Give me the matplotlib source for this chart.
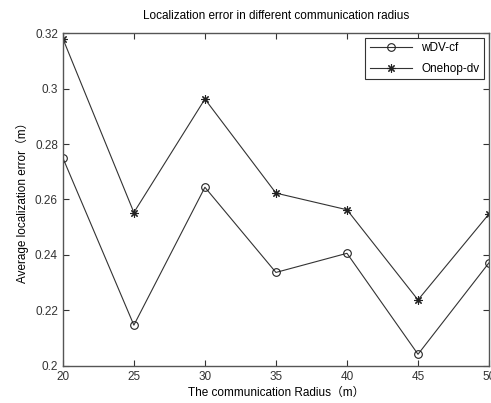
import matplotlib
matplotlib.use('Agg')
import matplotlib.pyplot as plt

plt.rcParams['font.family'] = ['Liberation Sans', 'Noto Sans CJK SC']

radius = [20, 25, 30, 35, 40, 45, 50]
wdv_cf = [0.275, 0.2147, 0.2644, 0.2337, 0.2406, 0.2042, 0.2372]
onehop_dv = [0.318, 0.2553, 0.2962, 0.2623, 0.2563, 0.2238, 0.2548]

fig = plt.figure(figsize=(4.91, 4.03), dpi=100)
ax = fig.add_axes([0.128, 0.092, 0.868, 0.826])

ax.plot(radius, wdv_cf, color='#333333', lw=0.8, marker='o', ms=5.5,
        mfc='none', mec='#222222', mew=0.8, label='wDV-cf')
ax.plot(radius, onehop_dv, color='#333333', lw=0.8, marker=(8, 2, 0), ms=6,
        mfc='#222222', mec='#222222', mew=0.8, label='Onehop-dv')

ax.set_xlim(20, 50)
ax.set_ylim(0.2, 0.32)
ax.set_xticks(radius)
ax.set_yticks([0.2, 0.22, 0.24, 0.26, 0.28, 0.3, 0.32])
ax.set_yticklabels(['0.2', '0.22', '0.24', '0.26', '0.28', '0.3', '0.32'])
ax.tick_params(direction='in', length=4, width=0.8, labelsize=8.5,
               top=True, right=True, colors='#333333')
for s in ax.spines.values():
    s.set_color('#555555')
    s.set_linewidth(1.0)

ax.set_title('Localization error in different communication radius',
             fontsize=8.5, pad=10)
ax.set_xlabel('The communication Radius（m）', fontsize=8.5, labelpad=3)
ax.set_ylabel('Average localization error（m）', fontsize=8.5, labelpad=4)

leg = ax.legend(loc='upper right', fontsize=8.5, fancybox=False,
                edgecolor='#333333', framealpha=1, handlelength=3.6,
                borderaxespad=0.4, labelspacing=0.7)
leg.get_frame().set_linewidth(0.8)

fig.savefig('out.png', dpi=100)
